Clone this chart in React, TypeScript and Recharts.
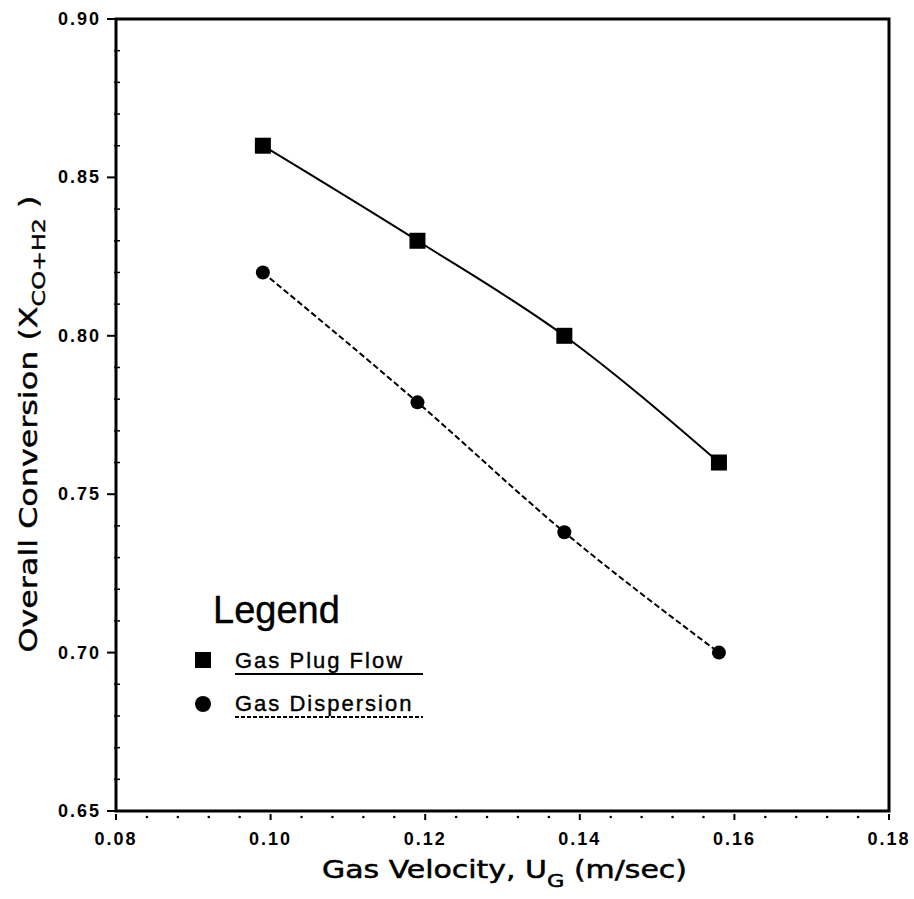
import { LineChart, Line, XAxis, YAxis, ReferenceArea, Legend, Label } from 'recharts';

// gas velocity U_G (m/sec)
const velocity = [0.099, 0.119, 0.138, 0.158];
// overall conversion X_CO+H2
const plugFlow = [0.86, 0.83, 0.8, 0.76];
const dispersion = [0.82, 0.779, 0.738, 0.7];

const xTicks = [0.08, 0.1, 0.12, 0.14, 0.16, 0.18];
const yTicks = [0.65, 0.7, 0.75, 0.8, 0.85, 0.9];
const xMinorPerMajor = 5;
const yMinorPerMajor = 5;

const FONT = '"Liberation Sans", Arial, Helvetica, sans-serif';
const WIDE = '"DejaVu Sans", "Liberation Sans", Arial, sans-serif';

const data = velocity.map((v, i) => ({ x: v, plug: plugFlow[i], disp: dispersion[i] }));

function withMinor(major: number[], per: number) {
  const out: number[] = [];
  for (let i = 0; i < major.length - 1; i++) {
    const step = (major[i + 1] - major[i]) / per;
    for (let k = 0; k < per; k++) out.push(+(major[i] + k * step).toFixed(4));
  }
  out.push(major[major.length - 1]);
  return out;
}

const isMajor = (v: number, major: number[]) => major.some((m) => Math.abs(m - v) < 1e-6);

function XTick(props: any) {
  const { x, y, payload } = props;
  const major = isMajor(payload.value, xTicks);
  return (
    <g>
      {major ? (
        <line x1={x} x2={x} y1={y + 3} y2={y + 9} stroke="#000" strokeWidth={2} />
      ) : (
        <circle cx={x} cy={y + 6} r={1.3} fill="#000" />
      )}
      {major && (
        <text x={x} y={y + 34} textAnchor="middle" fontFamily={FONT} fontWeight="bold" fontSize={18} letterSpacing={2} fill="#000">
          {payload.value.toFixed(2)}
        </text>
      )}
    </g>
  );
}

function YTick(props: any) {
  const { x, y, payload } = props;
  const major = isMajor(payload.value, yTicks);
  return (
    <g>
      {major ? (
        <line x1={x - 9} x2={x} y1={y} y2={y} stroke="#000" strokeWidth={2} />
      ) : (
        <line x1={x - 2} x2={x + 4} y1={y} y2={y} stroke="#000" strokeWidth={1.5} />
      )}
      {major && (
        <text x={x - 15} y={y + 6} textAnchor="end" fontFamily={FONT} fontWeight="bold" fontSize={18} letterSpacing={2} fill="#000">
          {payload.value.toFixed(2)}
        </text>
      )}
    </g>
  );
}

function XTitle(props: any) {
  const { viewBox } = props;
  const cx = viewBox.x + viewBox.width / 2 + 2;
  return (
    <text
      x={cx}
      y={viewBox.y + 67}
      textAnchor="middle"
      fontFamily={WIDE}
      fontSize={24}
      textLength={365}
      lengthAdjust="spacingAndGlyphs"
      fill="#000"
      stroke="#000"
      strokeWidth={0.5}
    >
      Gas Velocity, U
      <tspan fontSize={18} dy={9}>G</tspan>
      <tspan dy={-9}> (m/sec)</tspan>
    </text>
  );
}

function YTitle() {
  const cx = 37;
  const cy = 424;
  return (
    <text
      x={cx}
      y={cy}
      transform={`rotate(-90, ${cx}, ${cy})`}
      textAnchor="middle"
      fontFamily={WIDE}
      fontSize={24}
      textLength={457}
      lengthAdjust="spacingAndGlyphs"
      fill="#000"
      stroke="#000"
      strokeWidth={0.4}
    >
      Overall Conversion (X
      <tspan fontSize={18} dy={8}>CO+H2</tspan>
      <tspan dy={-8}> )</tspan>
    </text>
  );
}

function SquareDot(props: any) {
  const { cx, cy } = props;
  return <rect x={cx - 8} y={cy - 8} width={16} height={16} fill="#000" />;
}

function CircleDot(props: any) {
  const { cx, cy } = props;
  return <circle cx={cx} cy={cy} r={7} fill="#000" />;
}

function LegendBox() {
  return (
    <svg width={260} height={160} style={{ display: 'block' }}>
      <text x={33} y={53} fontFamily={FONT} fontSize={38} fill="#000" stroke="#000" strokeWidth={0.4}>Legend</text>
      <rect x={15} y={82} width={16} height={16} fill="#000" />
      <text x={55} y={98} fontFamily={FONT} fontSize={22} letterSpacing={2} fill="#000" stroke="#000" strokeWidth={0.4}>Gas Plug Flow</text>
      <line x1={55} x2={243} y1={104} y2={104} stroke="#000" strokeWidth={2} />
      <circle cx={23} cy={134} r={8} fill="#000" />
      <text x={55} y={141} fontFamily={FONT} fontSize={22} letterSpacing={2} fill="#000" stroke="#000" strokeWidth={0.4}>Gas Dispersion</text>
      <line x1={55} x2={243} y1={147} y2={147} stroke="#000" strokeWidth={2} strokeDasharray="4 2" />
    </svg>
  );
}

export default function App() {
  return (
    <div style={{ position: 'absolute', left: 0, top: 0, background: '#fff' }}>
      <LineChart width={914} height={899} data={data} margin={{ top: 19, right: 25, bottom: 28, left: 16 }}>
        <XAxis
          dataKey="x"
          type="number"
          domain={[0.08, 0.18]}
          ticks={withMinor(xTicks, xMinorPerMajor)}
          interval={0}
          height={60}
          axisLine={false}
          tickLine={false}
          tickSize={0}
          tickMargin={0}
          tick={(p: any) => <XTick {...p} />}
        >
          <Label content={XTitle} />
        </XAxis>
        <YAxis
          type="number"
          domain={[0.65, 0.9]}
          ticks={withMinor(yTicks, yMinorPerMajor)}
          interval={0}
          width={100}
          axisLine={false}
          tickLine={false}
          tickSize={0}
          tickMargin={0}
          tick={(p: any) => <YTick {...p} />}
        >
          <Label content={YTitle} />
        </YAxis>
        <ReferenceArea x1={0.08} x2={0.18} y1={0.65} y2={0.9} fill="none" stroke="#000" strokeWidth={3} />
        <Line
          dataKey="plug"
          type="monotone"
          stroke="#000"
          strokeWidth={2}
          dot={(p: any) => <SquareDot key={`s-${p.index}`} {...p} />}
          isAnimationActive={false}
        />
        <Line
          dataKey="disp"
          type="monotone"
          stroke="#000"
          strokeWidth={2}
          strokeDasharray="6 3"
          dot={(p: any) => <CircleDot key={`c-${p.index}`} {...p} />}
          isAnimationActive={false}
        />
        <Legend
          layout="vertical"
          align="center"
          verticalAlign="middle"
          wrapperStyle={{ left: 180, top: 570, width: 260, height: 160 }}
          content={() => <LegendBox />}
        />
      </LineChart>
    </div>
  );
}
